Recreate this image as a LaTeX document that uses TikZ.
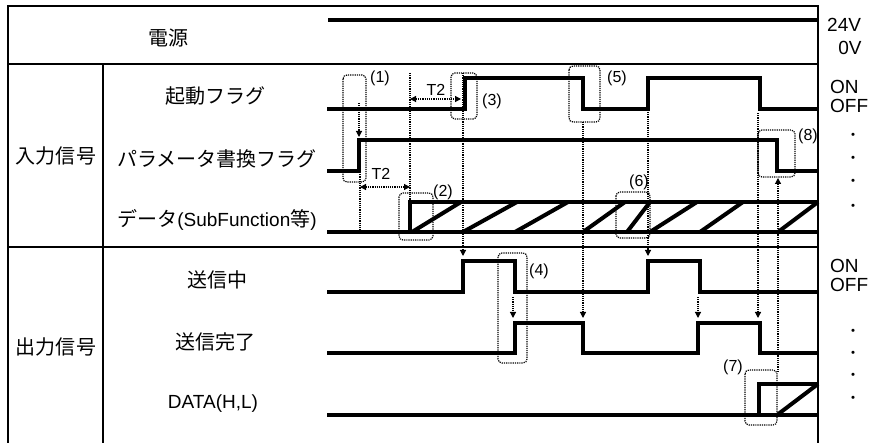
\documentclass[tikz,border=0pt]{standalone}
\usepackage{fontspec}
\setmainfont{Liberation Sans}
\newfontfamily\jp{Noto Sans CJK JP}
\usetikzlibrary{arrows.meta}
\begin{document}
\begin{tikzpicture}[x=1pt,y=-1pt,
  frame/.style={line width=1.6pt},
  sig/.style={line width=4pt, line join=miter},
  guide/.style={dash pattern=on 1.2pt off 1pt, line width=1.2pt},
  garrow/.style={guide, -{Triangle[length=6pt,width=6pt]}},
  tarrow/.style={guide, {Triangle[length=6pt,width=6pt]}-{Triangle[length=6pt,width=6pt]}},
  gbox/.style={dash pattern=on 1.2pt off 1pt, line width=1.2pt, rounded corners=4pt},
  lab/.style={inner sep=0pt, font=\fontsize{19}{21}\selectfont},
  jlab/.style={inner sep=0pt, font=\jp\fontsize{20}{22}\selectfont},
  small/.style={inner sep=0pt, font=\fontsize{16}{18}\selectfont},
  dotlab/.style={inner sep=0pt, font=\jp\fontsize{15}{17}\selectfont},
]
\useasboundingbox (0,0) rectangle (872,443);
% frame
\draw[frame] (8,443) -- (8,6) -- (818,6) -- (818,443);
\draw[frame] (8,64) -- (818,64);
\draw[frame] (8,247) -- (818,247);
\draw[frame] (103,64) -- (103,443);
% row labels
\node[jlab] (pw) at (168,38) {電源};
\node[jlab] (in) at (56,156) {入力信号};
\node[jlab] (out) at (56,347) {出力信号};
\node[jlab] (s1) at (215,96) {起動フラグ};
\node[jlab] (s2) at (217,159) {パラメータ書換フラグ};
\node[lab] (s3) at (217,220) {{\jp\fontsize{20}{22}\selectfont データ}(SubFunction{\jp\fontsize{20}{22}\selectfont 等})};
\node[jlab] (s4) at (217,280) {送信中};
\node[jlab] (s5) at (215,342) {送信完了};
\node[lab] (s6) at (213,404) {DATA(H,L)};
% right labels
\node[lab,anchor=west] (v24) at (827,25) {24V};
\node[lab] (v0) at (850,48) {0V};
\node[lab,anchor=west] (on1) at (830,87) {ON};
\node[lab,anchor=west] (off1) at (830,106) {OFF};
\node[lab,anchor=west] (on2) at (830,266) {ON};
\node[lab,anchor=west] (off2) at (830,285) {OFF};
\foreach \y/\n in {137/a,160/b,183/c,208/d,333/e,355/f,377/g,400/h}
  \node[dotlab] (dot\n) at (853,\y) {・};
% signals
\draw[sig] (328,20) -- (818,20);
\draw[sig] (327,109) -- (465,109) -- (465,78) -- (583,78) -- (583,109) -- (648,109) -- (648,78) -- (760,78) -- (760,109) -- (818,109);
\draw[sig] (327,171) -- (359,171) -- (359,140) -- (777,140) -- (777,171) -- (818,171);
\draw[sig] (327,232) -- (818,232);
\draw[sig] (410,232) -- (410,202) -- (818,202);
\foreach \a/\b in {412/461,463/517,515/568,583/625,627/650,650/697,700/743,778/818}
  \draw[sig] (\a,232) -- (\b,202);
\draw[sig] (327,292) -- (463,292) -- (463,261) -- (515,261) -- (515,292) -- (648,292) -- (648,261) -- (700,261) -- (700,292) -- (818,292);
\draw[sig] (327,353) -- (515,353) -- (515,323) -- (583,323) -- (583,353) -- (698,353) -- (698,323) -- (760,323) -- (760,353) -- (818,353);
\draw[sig] (327,415) -- (818,415);
\draw[sig] (759,415) -- (759,384) -- (818,384);
\draw[sig] (777,415) -- (818,384);
% guide coordinates
\coordinate (g1a) at (359,103); \coordinate (g1b) at (359,137);
\coordinate (g1c) at (360,172); \coordinate (g1d) at (360,232);
\coordinate (g2a) at (410,73);  \coordinate (g2b) at (410,200);
\coordinate (g3a) at (463,73);  \coordinate (g3b) at (463,256);
\coordinate (g4a) at (513,297); \coordinate (g4b) at (513,318);
\coordinate (g5a) at (583,122); \coordinate (g5b) at (583,318);
\coordinate (g6a) at (648,112); \coordinate (g6b) at (648,256);
\coordinate (g7a) at (698,297); \coordinate (g7b) at (698,318);
\coordinate (g8a) at (758,113); \coordinate (g8b) at (758,318);
\coordinate (g9a) at (778,372); \coordinate (g9b) at (778,178);
\coordinate (t1a) at (410,99);  \coordinate (t1b) at (461,99);
\coordinate (t2a) at (360,187); \coordinate (t2b) at (410,187);
% guides
\draw[garrow] (g1a) -- (g1b);
\draw[guide] (g1c) -- (g1d);
\draw[guide] (g2a) -- (g2b);
\draw[garrow] (g3a) -- (g3b);
\draw[garrow] (g4a) -- (g4b);
\draw[garrow] (g5a) -- (g5b);
\draw[garrow] (g6a) -- (g6b);
\draw[garrow] (g7a) -- (g7b);
\draw[garrow] (g8a) -- (g8b);
\draw[garrow] (g9a) -- (g9b);
\draw[tarrow] (t1a) -- (t1b);
\draw[tarrow] (t2a) -- (t2b);
% dotted boxes
\draw[gbox] (343,75) rectangle (366,182);
\draw[gbox] (399,193) rectangle (433,240);
\draw[gbox] (451,73) rectangle (477,119);
\draw[gbox] (498,253) rectangle (527,363);
\draw[gbox] (569,66) rectangle (600,122);
\draw[gbox] (616,192) rectangle (650,238);
\draw[gbox] (745,370) rectangle (777,425);
\draw[gbox] (758,130) rectangle (795,177);
% small labels
\node[small] (n1) at (380,78) {(1)};
\node[small] (n2) at (443,192) {(2)};
\node[small] (n3) at (492,101) {(3)};
\node[small] (n4) at (539,271) {(4)};
\node[small] (n5) at (617,78) {(5)};
\node[small] (n6) at (639,182) {(6)};
\node[small] (n7) at (733,367) {(7)};
\node[small] (n8) at (808,136) {(8)};
\node[small] (tt1) at (436,90) {T2};
\node[small] (tt2) at (381,174) {T2};
\end{tikzpicture}
\end{document}
